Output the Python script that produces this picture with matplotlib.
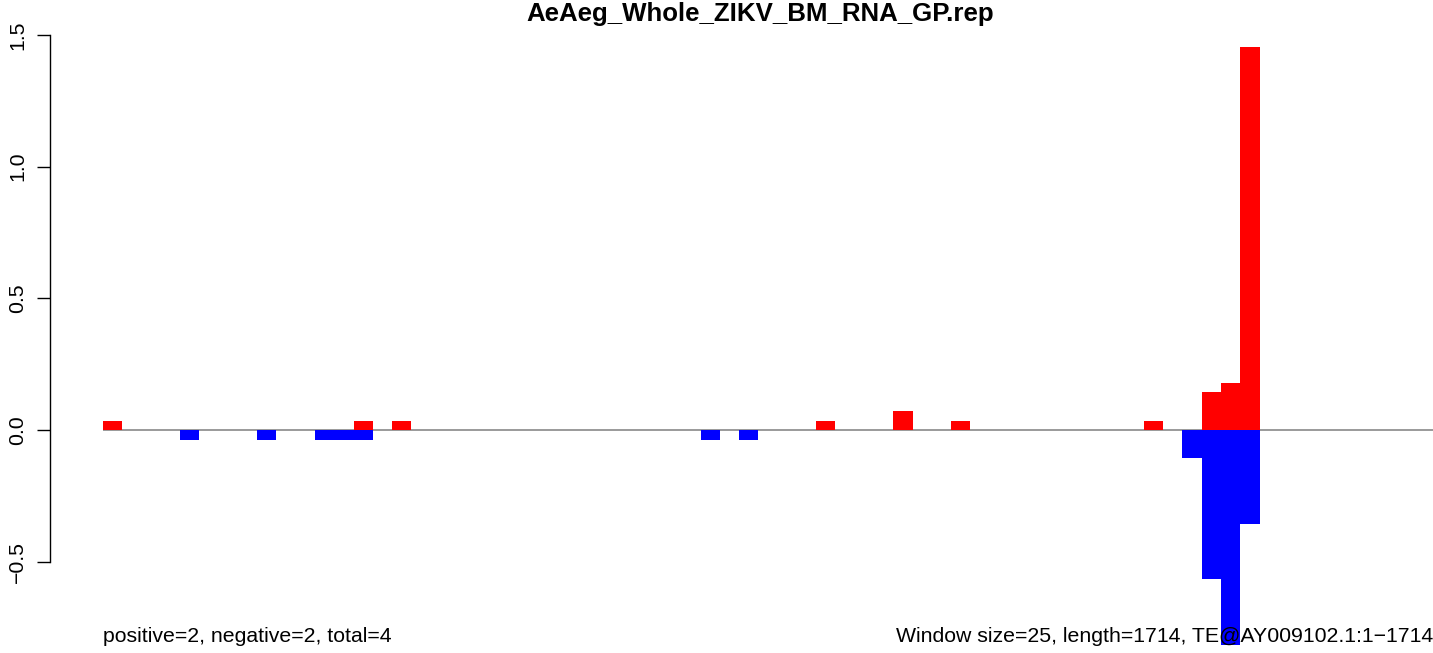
import matplotlib
matplotlib.use("Agg")
import matplotlib.pyplot as plt
import numpy as np

plt.rcParams['font.family'] = ['Liberation Sans', 'DejaVu Sans']

title = "AeAeg_Whole_ZIKV_BM_RNA_GP.rep"
n_windows = 69  # window size 25, length 1714

# positive (red) windows and heights
pos_idx = [0, 13, 15, 37, 41, 44, 54, 57, 58, 59]
pos_val = [0.036, 0.036, 0.036, 0.036, 0.072, 0.036, 0.036, 0.144, 0.178, 1.455]
# negative (blue) windows and heights
neg_idx = [4, 8, 11, 12, 13, 31, 33, 56, 57, 58, 59]
neg_val = [-0.038, -0.038, -0.038, -0.038, -0.038, -0.038, -0.038, -0.106, -0.566, -0.83, -0.357]

yticks = [-0.5, 0.0, 0.5, 1.0, 1.5]
left_note = "positive=2, negative=2, total=4"
right_note = "Window size=25, length=1714, TE@AY009102.1:1\u22121714"

W, H = 1433, 653
fig = plt.figure(figsize=(W / 100, H / 100), dpi=100)
ax = fig.add_axes([103 / W, (H - 645) / H, (1433 - 103) / W, (645 - 23) / H])

pos = np.zeros(n_windows)
pos[pos_idx] = pos_val
neg = np.zeros(n_windows)
neg[neg_idx] = neg_val
x = np.arange(n_windows)

ax.axhline(0, color='#9a9a9a', lw=1.4, zorder=1)
ax.bar(x, pos, width=1.0, align='edge', color='#ff0000', lw=0, zorder=2)
ax.bar(x, neg, width=1.0, align='edge', color='#0000ff', lw=0, zorder=2)

ax.set_xlim(0, n_windows)
ax.set_ylim(-0.8166, 1.5458)

for s in ['top', 'right', 'bottom']:
    ax.spines[s].set_visible(False)
ax.spines['left'].set_position(('outward', 38))
ax.spines['left'].set_bounds(-0.5, 1.5)
ax.spines['left'].set_linewidth(1.0)
ax.set_xticks([])
ax.set_yticks(yticks)
ax.set_yticklabels([f"{v:.1f}".replace('-', '\u2212') for v in yticks],
                   rotation=90, va='center', fontsize=15.3)
ax.tick_params(axis='y', length=9.5, width=1.0, pad=7)

fig.text(760 / W, (H - 21) / H, title, ha='center', va='baseline',
         fontsize=18.6, fontweight='bold')
fig.text(103 / W, (H - 642) / H, left_note, ha='left', va='baseline', fontsize=15.3, zorder=5)
fig.text(1433 / W, (H - 642) / H, right_note, ha='right', va='baseline', fontsize=15.3, zorder=5)

fig.savefig("out.png", dpi=100)
